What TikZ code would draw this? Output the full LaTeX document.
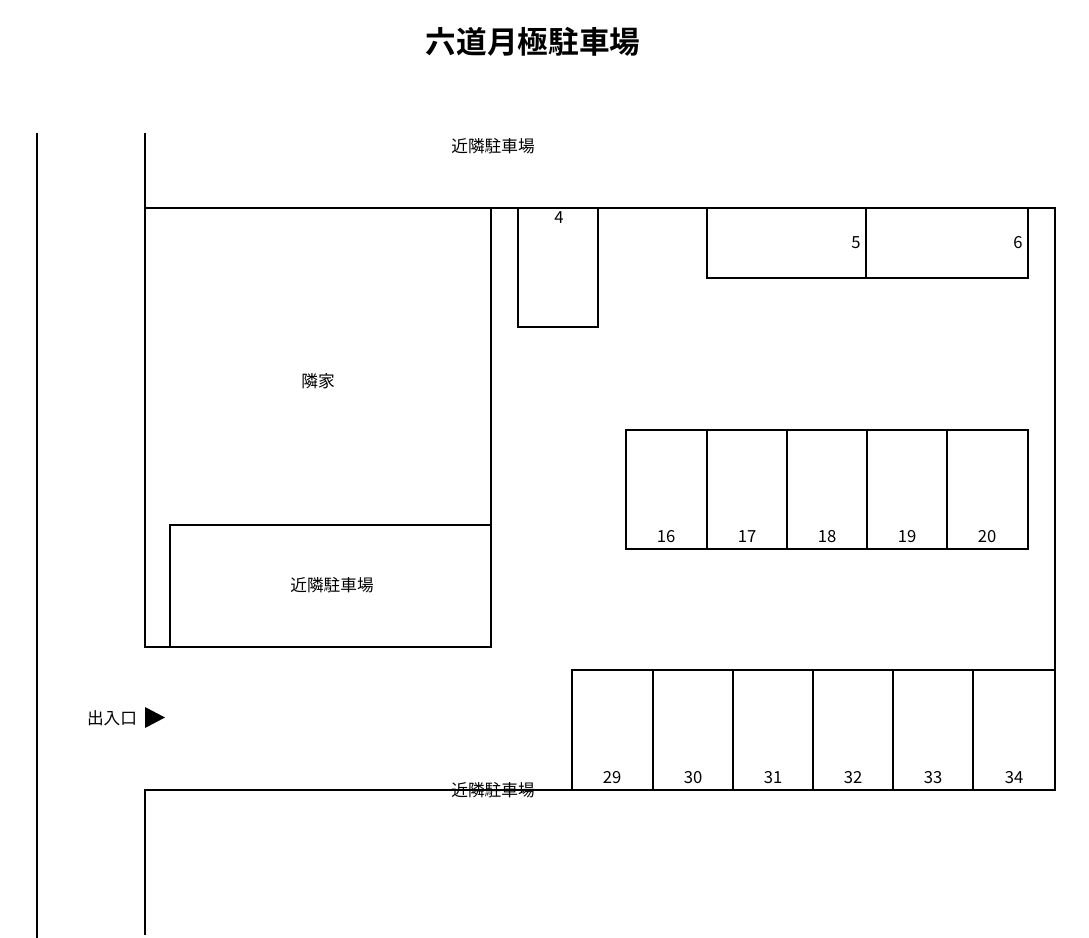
\documentclass[tikz,border=0pt]{standalone}
\usepackage{fontspec}
\newfontfamily\cjk{Noto Sans CJK JP}
\newfontfamily\cjkb{Noto Sans CJK JP Bold}
\begin{document}
\begin{tikzpicture}[x=0.75pt,y=-0.75pt,
  wall/.style={line width=1.9pt},
  lbl/.style={font=\cjk\fontsize{12.5pt}{14pt}\selectfont, inner sep=0pt},
  num/.style={font=\cjk\fontsize{12.5pt}{14pt}\selectfont, inner sep=0pt}]
\useasboundingbox (0,0) rectangle (1089,938);
\node[font=\cjkb\fontsize{23pt}{26pt}\selectfont] (title) at (533,42) {六道月極駐車場};
% walls
\draw[wall] (37,133) -- (37,938);
\draw[wall] (145,133) -- (145,208) -- (1055,208) -- (1055,790) -- (145,790) -- (145,935);
\draw[wall] (145,208) -- (145,647) -- (491,647) -- (491,208);
\draw[wall] (170,647) -- (170,525) -- (491,525);
\draw[wall] (572,790) -- (572,670) -- (1055,670);
\foreach \x in {653,733,813,893,973} \draw[wall] (\x,670) -- (\x,790);
\draw[wall] (518,208) -- (518,327) -- (598,327) -- (598,208);
\draw[wall] (707,208) -- (707,278) -- (1028,278) -- (1028,208);
\draw[wall] (866,208) -- (866,278);
\draw[wall] (626,549) -- (626,430) -- (1028,430) -- (1028,549) -- cycle;
\foreach \x in {707,787,867,947} \draw[wall] (\x,430) -- (\x,549);
% labels
\node[lbl] (n1) at (493,146) {近隣駐車場};
\node[lbl] (n2) at (332,585) {近隣駐車場};
\node[lbl] (n3) at (493,790) {};
\node[lbl] (n3b) at (493,791) {};
\node[lbl] (n4) at (493,791) {};
\node[lbl] (n5) at (493,790) {};
\node[lbl] (n6) at (493,790) {近隣駐車場};
\node[lbl] (house) at (318,381) {隣家};
\node[lbl] (gate) at (112,718) {出入口};
\fill (145,707) -- (165,717.5) -- (145,728) -- cycle;
\node[num] (s4) at (559,218) {4};
\node[num] (s5) at (856,243) {5};
\node[num] (s6) at (1018,243) {6};
\foreach \n/\x in {16/666,17/747,18/827,19/907,20/987}
  \node[num] (s\n) at (\x,537) {\n};
\foreach \n/\x in {29/612,30/693,31/773,32/853,33/933,34/1014}
  \node[num] (s\n) at (\x,778) {\n};
\end{tikzpicture}
\end{document}
